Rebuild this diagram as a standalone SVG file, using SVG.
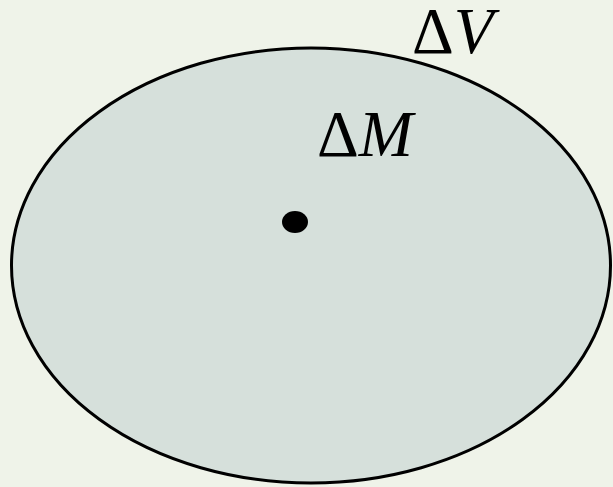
<svg xmlns="http://www.w3.org/2000/svg" width="613" height="487" viewBox="0 0 613 487">
<style>
.t{font-family:"Liberation Serif","Times New Roman",serif;font-size:65px;fill:#000}
.i{font-style:italic}
</style>
<rect width="613" height="487" fill="#eff3e9"/>
<g id="volume">
<ellipse cx="311" cy="265.5" rx="299.5" ry="217.5" fill="#d6e0db" stroke="#000" stroke-width="3"/>
</g>
<g id="point">
<ellipse cx="295" cy="222" rx="13" ry="11" fill="#000"/>
</g>
<g id="label-V">
<text class="t" x="412" y="53">Δ<tspan class="i">V</tspan></text>
</g>
<g id="label-M">
<text class="t" x="317" y="156">Δ<tspan class="i">M</tspan></text>
</g>
</svg>
